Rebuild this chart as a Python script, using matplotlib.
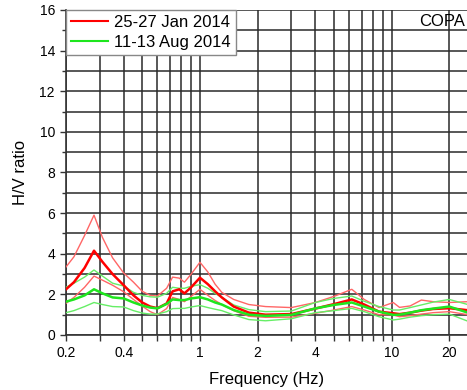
import numpy as np
import matplotlib
matplotlib.use("Agg")
import matplotlib.pyplot as plt
from matplotlib.ticker import FixedLocator, NullFormatter, MultipleLocator

plt.rcParams['font.family'] = ['Liberation Sans', 'DejaVu Sans']

# frequency samples (Hz)
freq = [0.2, 0.22, 0.25, 0.28, 0.31, 0.35, 0.4, 0.45, 0.5, 0.55, 0.6, 0.67, 0.72,
        0.78, 0.83, 0.9, 1.0, 1.1, 1.2, 1.3, 1.5, 1.8, 2.2, 3.0, 4.0, 5.0, 6.2,
        7.2, 8.6, 10.2, 11.0, 12.5, 14.3, 16.5, 20.0, 25.0, 30.0]

# 25-27 Jan 2014 : mean, mean+std, mean-std
jan_mean = [2.25, 2.6, 3.3, 4.15, 3.6, 3.0, 2.45, 1.95, 1.6, 1.4, 1.32, 1.55, 2.15,
            2.25, 2.05, 2.35, 2.82, 2.5, 2.15, 1.85, 1.4, 1.1, 1.0, 1.03, 1.3, 1.52, 1.75,
            1.5, 1.15, 1.07, 1.03, 1.1, 1.2, 1.28, 1.32, 1.22, 1.2]
jan_upper = [3.35, 3.85, 4.9, 5.9, 4.8, 3.8, 3.05, 2.6, 2.15, 1.95, 1.92, 2.3, 2.85,
             2.8, 2.6, 3.0, 3.58, 3.1, 2.5, 2.1, 1.75, 1.5, 1.4, 1.35, 1.6, 1.9, 2.25,
             1.75, 1.35, 1.6, 1.36, 1.43, 1.72, 1.64, 1.6, 1.64, 1.6]
jan_lower = [1.56, 1.85, 2.35, 2.9, 2.7, 2.45, 2.13, 1.75, 1.42, 1.15, 1.0, 1.3, 1.85,
             1.75, 1.64, 1.9, 2.25, 1.95, 1.7, 1.5, 1.2, 0.92, 0.87, 0.88, 1.07, 1.23, 1.4,
             1.23, 1.0, 0.99, 0.9, 0.95, 1.03, 1.1, 1.15, 1.0, 0.98]

# 11-13 Aug 2014
aug_mean = [1.64, 1.75, 1.95, 2.25, 2.05, 1.85, 1.8, 1.6, 1.45, 1.35, 1.31, 1.53, 1.75,
            1.72, 1.72, 1.8, 1.86, 1.75, 1.6, 1.5, 1.23, 1.0, 0.94, 0.99, 1.31, 1.48, 1.6,
            1.4, 1.15, 0.99, 1.0, 1.1, 1.22, 1.3, 1.4, 1.1, 1.0]
aug_upper = [2.35, 2.55, 2.85, 3.2, 2.9, 2.55, 2.41, 2.1, 1.95, 1.88, 1.86, 2.05, 2.35,
             2.3, 2.3, 2.4, 2.48, 2.3, 2.05, 1.85, 1.48, 1.25, 1.15, 1.18, 1.6, 1.8, 1.92,
             1.66, 1.4, 1.23, 1.23, 1.35, 1.48, 1.62, 1.75, 1.5, 1.4]
aug_lower = [1.1, 1.2, 1.4, 1.6, 1.5, 1.4, 1.38, 1.2, 1.08, 1.03, 1.03, 1.15, 1.3,
             1.31, 1.31, 1.38, 1.45, 1.35, 1.27, 1.2, 0.99, 0.76, 0.7, 0.8, 1.1, 1.2, 1.31,
             1.15, 0.9, 0.74, 0.78, 0.88, 0.95, 1.0, 1.03, 0.68, 0.65]

labels = ['25-27 Jan 2014', '11-13 Aug 2014']
xtick_labels = [0.2, 0.4, 1, 2, 4, 10, 20]

fig = plt.figure(figsize=(4.67, 3.9), dpi=100)
# axes runs past the right edge, as in the cropped original
ax = fig.add_axes([66 / 467, 55 / 390, 417 / 467, 325 / 390])

red, red_thin = '#ff0000', '#ff6666'
green, green_thin = '#1ee61e', '#66ee66'

ax.plot(freq, jan_upper, color=red_thin, lw=1.0, zorder=3)
ax.plot(freq, jan_lower, color=red_thin, lw=1.0, zorder=3)
ax.plot(freq, aug_upper, color=green_thin, lw=1.0, zorder=3)
ax.plot(freq, aug_lower, color=green_thin, lw=1.0, zorder=3)
l1, = ax.plot(freq, jan_mean, color=red, lw=1.8, zorder=4)
l2, = ax.plot(freq, aug_mean, color=green, lw=1.8, zorder=4)

ax.set_xscale('log')
ax.set_xlim(0.2, 30)
ax.set_ylim(0, 16)

grid_x = [0.2, 0.3, 0.4, 0.5, 0.6, 0.7, 0.8, 0.9, 1, 2, 3, 4, 5, 6, 7, 8, 9, 10, 20, 30]
ax.xaxis.set_major_locator(FixedLocator(xtick_labels))
ax.xaxis.set_minor_locator(FixedLocator([g for g in grid_x if g not in xtick_labels]))
ax.set_xticklabels([str(v) for v in xtick_labels])
ax.xaxis.set_minor_formatter(NullFormatter())
ax.yaxis.set_major_locator(MultipleLocator(2))
ax.yaxis.set_minor_locator(MultipleLocator(1))

for g in grid_x:
    ax.axvline(g, color='#2a2a2a', lw=1.1, zorder=1)
for v in range(0, 17):
    ax.axhline(v, color='#2a2a2a', lw=1.1, zorder=1)

ax.tick_params(axis='both', which='major', direction='out', length=4, width=1,
               color='#333333', labelsize=10, pad=4)
ax.tick_params(axis='y', which='minor', direction='out', length=3, width=1, color='#333333')
ax.tick_params(axis='x', which='minor', direction='out', length=4, width=1, color='#333333')
ax.tick_params(top=False, right=False)
for s in ['top', 'right']:
    ax.spines[s].set_visible(False)
for s in ['left', 'bottom']:
    ax.spines[s].set_color('#333333')
    ax.spines[s].set_linewidth(1.2)

ax.set_xlabel('Frequency (Hz)', fontsize=12, labelpad=7)
ax.set_ylabel('H/V ratio', fontsize=12, labelpad=8)
ax.xaxis.set_label_coords((267 - 66) / 417, -0.115)

leg = ax.legend([l1, l2], labels, loc='upper left', fontsize=12, frameon=True,
                fancybox=False, borderaxespad=0, handlelength=2.2, handletextpad=0.4,
                borderpad=0.3, labelspacing=0.3, framealpha=1)
leg.get_frame().set_edgecolor('#888888')
leg.get_frame().set_linewidth(1.0)
for h in leg.get_lines():
    h.set_linewidth(1.5)
leg.set_zorder(5)

fig.text(465 / 467, 1 - 22 / 390, 'COPA', fontsize=12, ha='right', va='center')

fig.savefig('out.png', dpi=100)
